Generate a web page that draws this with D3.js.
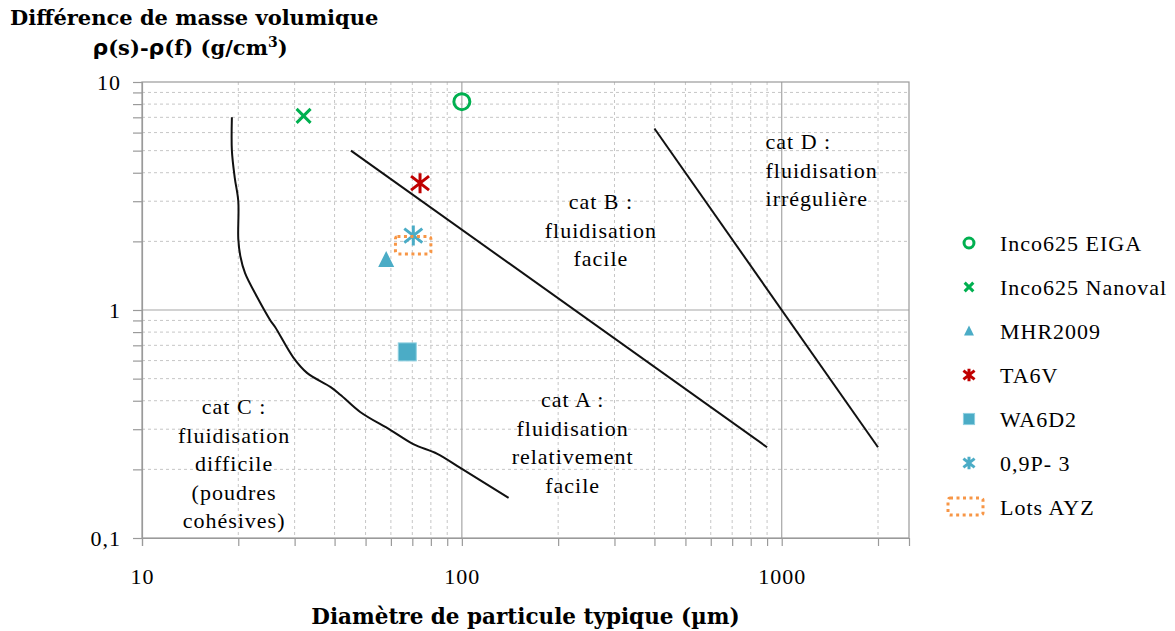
<!DOCTYPE html>
<html>
<head>
<meta charset="utf-8">
<script src="https://cdn.jsdelivr.net/npm/d3@7"></script>
<style>
  html, body { margin: 0; padding: 0; background: #fff; }
  svg { display: block; }
  text { font-family: "Liberation Serif", "DejaVu Serif", serif; fill: #000; }
  .lbl { font-size: 22px; letter-spacing: 1px; }
  .ttl { font-family: "DejaVu Serif", serif; font-weight: bold; font-size: 21px; }
</style>
</head>
<body>
<svg id="chart" width="1175" height="631"></svg>
<script>
// Axis extents and ticks
const xDomain = [10, 2500];
const yDomain = [0.1, 10];
const xTickLabels = [10, 100, 1000];
const yTickLabels = [0.1, 1, 10];
const xMinorGrid = [20, 30, 40, 50, 60, 70, 80, 90, 200, 300, 400, 500, 600, 700, 800, 900, 2000];
const xMajorGrid = [100, 1000];
const yMinorGrid = [0.2, 0.3, 0.4, 0.5, 0.6, 0.7, 0.8, 0.9, 2, 3, 4, 5, 6, 7, 8, 9];
const yMajorGrid = [1];

// Powder lots: typical diameter (µm), density difference (g/cm3)
const seriesNames = ["Inco625 EIGA", "Inco625 Nanoval", "MHR2009", "TA6V", "WA6D2", "0,9P- 3", "Lots AYZ"];
const seriesX = [100, 32, 58, 74, 67.5, 70.5, null];
const seriesY = [8.2, 7.1, 1.66, 3.6, 0.655, 2.12, null];
const lotsAYZx = [62, 80];
const lotsAYZy = [1.76, 2.1];

// Geldart category boundaries
const boundaryC = [
  [19.1, 7.0], [19.1, 5.0], [19.5, 3.8], [20.0, 3.0], [20.0, 2.05], [20.3, 1.72],
  [21.0, 1.45], [22.9, 1.14], [25.2, 0.90], [26.1, 0.84], [29.7, 0.62], [32.8, 0.53],
  [38.8, 0.46], [41.7, 0.425], [48.1, 0.357], [59.7, 0.298], [70.5, 0.258],
  [83.8, 0.234], [98.9, 0.203], [140, 0.15]
];
const boundaryAB = [[45, 5], [900, 0.25]];
const boundaryD = [[400, 6.25], [2000, 0.25]];

// Region captions (anchor point = first line baseline)
const catLabels = [
  { lines: ["cat B :", "fluidisation", "facile"], x: 272, y: 2.77, anchor: "middle" },
  { lines: ["cat D :", "fluidisation", "irrégulière"], x: 890, y: 5.08, anchor: "start" },
  { lines: ["cat A :", "fluidisation", "relativement", "facile"], x: 222, y: 0.3755, anchor: "middle" },
  { lines: ["cat C :", "fluidisation", "difficile", "(poudres", "cohésives)"], x: 19.4, y: 0.35, anchor: "middle" }
];

const green = "#00b050", blue = "#4bacc6", red = "#c00000", orange = "#f79646";

const svg = d3.select("#chart");
const mLeft = 142, mRight = 909, mTop = 82, mBottom = 538;
const x = d3.scaleLog().domain(xDomain).range([mLeft, mRight]);
const y = d3.scaleLog().domain(yDomain).range([mBottom, mTop]);

// Grid
const grid = svg.append("g");
grid.selectAll(".xmin").data(xMinorGrid).enter().append("line")
  .attr("x1", d => x(d)).attr("x2", d => x(d)).attr("y1", mTop).attr("y2", mBottom)
  .attr("stroke", "#c6c6c6").attr("stroke-width", 1).attr("stroke-dasharray", "3,3");
grid.selectAll(".ymin").data(yMinorGrid).enter().append("line")
  .attr("x1", mLeft).attr("x2", mRight).attr("y1", d => y(d)).attr("y2", d => y(d))
  .attr("stroke", "#c6c6c6").attr("stroke-width", 1).attr("stroke-dasharray", "3,3");
grid.selectAll(".xmaj").data(xMajorGrid).enter().append("line")
  .attr("x1", d => x(d)).attr("x2", d => x(d)).attr("y1", mTop).attr("y2", mBottom)
  .attr("stroke", "#a6a6a6").attr("stroke-width", 1.2);
grid.selectAll(".ymaj").data(yMajorGrid).enter().append("line")
  .attr("x1", mLeft).attr("x2", mRight).attr("y1", d => y(d)).attr("y2", d => y(d))
  .attr("stroke", "#a6a6a6").attr("stroke-width", 1.2);
// Frame
grid.append("rect").attr("x", mLeft).attr("y", mTop).attr("width", mRight - mLeft).attr("height", mBottom - mTop)
  .attr("fill", "none").attr("stroke", "#9a9a9a").attr("stroke-width", 1.2);

// Axes
const allX = [10].concat(xMinorGrid, xMajorGrid).sort((a, b) => a - b);
const allY = [0.1, 10].concat(yMinorGrid, yMajorGrid).sort((a, b) => a - b);
const fmt = d => String(d).replace(".", ",");
const xAxis = d3.axisBottom(x).tickValues(allX).tickSize(8).tickPadding(22)
  .tickFormat(d => xTickLabels.includes(d) ? fmt(d) : "");
const yAxis = d3.axisLeft(y).tickValues(allY).tickSize(9).tickPadding(12)
  .tickFormat(d => yTickLabels.includes(d) ? fmt(d) : "");
const gx = svg.append("g").attr("transform", `translate(0,${mBottom})`).call(xAxis);
const gy = svg.append("g").attr("transform", `translate(${mLeft},0)`).call(yAxis);
[gx, gy].forEach(g => {
  g.select(".domain").attr("stroke", "#9a9a9a").attr("stroke-width", 1.2);
  g.selectAll(".tick line").attr("stroke", "#9a9a9a").attr("stroke-width", 1.2);
  g.selectAll(".tick text").style("font-family", "'Liberation Serif', serif").style("font-size", "22px")
    .style("letter-spacing", "1px").attr("fill", "#000");
});
gx.selectAll(".tick text").attr("dy", "0.71em");

// Boundaries
const line = d3.line().x(d => x(d[0])).y(d => y(d[1]));
svg.append("path").attr("d", d3.line().x(d => x(d[0])).y(d => y(d[1])).curve(d3.curveCatmullRom.alpha(0.5))(boundaryC))
  .attr("fill", "none").attr("stroke", "#111").attr("stroke-width", 2);
svg.append("path").attr("d", line(boundaryAB))
  .attr("fill", "none").attr("stroke", "#111").attr("stroke-width", 2);
svg.append("path").attr("d", line(boundaryD))
  .attr("fill", "none").attr("stroke", "#111").attr("stroke-width", 2);

// Captions
catLabels.forEach(c => {
  const t = svg.append("text").attr("class", "lbl").attr("x", x(c.x)).attr("y", y(c.y))
    .attr("text-anchor", c.anchor);
  c.lines.forEach((l, i) => t.append("tspan").attr("x", x(c.x)).attr("dy", i === 0 ? 0 : 28.6).text(l));
});

// Marker shapes
function drawMarker(g, i, cx, cy, s) {
  const sw = 3;
  if (i === 0) {
    g.append("circle").attr("cx", cx).attr("cy", cy).attr("r", 8 * s)
      .attr("fill", "none").attr("stroke", green).attr("stroke-width", sw);
  } else if (i === 1) {
    const r = 7 * s;
    g.append("path").attr("d", `M${cx - r},${cy - r}L${cx + r},${cy + r}M${cx - r},${cy + r}L${cx + r},${cy - r}`)
      .attr("stroke", green).attr("stroke-width", sw).attr("fill", "none");
  } else if (i === 2) {
    const h = 16 * s, w = 16 * s;
    g.append("path").attr("d", `M${cx},${cy - h * 0.55}L${cx + w / 2},${cy + h * 0.45}L${cx - w / 2},${cy + h * 0.45}Z`)
      .attr("fill", blue);
  } else if (i === 3 || i === 5) {
    const col = i === 3 ? red : blue;
    const r = 10 * s, dx = 9 * s, dy = 7 * s;
    g.append("path").attr("d", `M${cx},${cy - r}L${cx},${cy + r}M${cx - dx},${cy - dy}L${cx + dx},${cy + dy}M${cx - dx},${cy + dy}L${cx + dx},${cy - dy}`)
      .attr("stroke", col).attr("stroke-width", sw).attr("fill", "none");
  } else if (i === 4) {
    const r = 9 * s;
    g.append("rect").attr("x", cx - r).attr("y", cy - r).attr("width", 2 * r).attr("height", 2 * r)
      .attr("fill", blue).attr("stroke", "#8fd0e0").attr("stroke-width", 1);
  }
}

// Data points
const pts = svg.append("g");
seriesX.forEach((vx, i) => {
  if (vx == null) return;
  drawMarker(pts, i, x(vx), y(seriesY[i]), 1);
});
pts.append("rect")
  .attr("x", x(lotsAYZx[0])).attr("y", y(lotsAYZy[1]))
  .attr("width", x(lotsAYZx[1]) - x(lotsAYZx[0])).attr("height", y(lotsAYZy[0]) - y(lotsAYZy[1]))
  .attr("rx", 2).attr("fill", "none").attr("stroke", orange).attr("stroke-width", 3).attr("stroke-dasharray", "3,3.5");

// Legend
const lg = svg.append("g");
seriesNames.forEach((name, i) => {
  const ly = 243 + i * 44;
  if (i === 6) {
    lg.append("rect").attr("x", 948).attr("y", ly - 9).attr("width", 35).attr("height", 17).attr("rx", 2)
      .attr("fill", "none").attr("stroke", orange).attr("stroke-width", 3).attr("stroke-dasharray", "3,3.5");
  } else {
    drawMarker(lg, i, 969, ly, 0.62);
  }
  lg.append("text").attr("class", "lbl").attr("x", 1000).attr("y", ly + 7.5).text(name);
});

// Axis titles
svg.append("text").attr("class", "ttl").attr("x", 10).attr("y", 25)
  .text("Différence de masse volumique");
const yt = svg.append("text").attr("class", "ttl").attr("x", 190).attr("y", 55).attr("text-anchor", "middle");
yt.append("tspan").style("font-family", "'DejaVu Sans', sans-serif").style("font-size", "22px").text("ρ");
yt.append("tspan").text("(s)-");
yt.append("tspan").style("font-family", "'DejaVu Sans', sans-serif").style("font-size", "22px").text("ρ");
yt.append("tspan").text("(f)  (g/cm");
yt.append("tspan").attr("dy", -8).style("font-size", "14px").text("3");
yt.append("tspan").attr("dy", 8).text(")");
svg.append("text").attr("class", "ttl").attr("x", (mLeft + mRight) / 2).attr("y", 624).attr("text-anchor", "middle")
  .style("font-size", "21.5px").text("Diamètre de particule typique (µm)");
</script>
</body>
</html>
